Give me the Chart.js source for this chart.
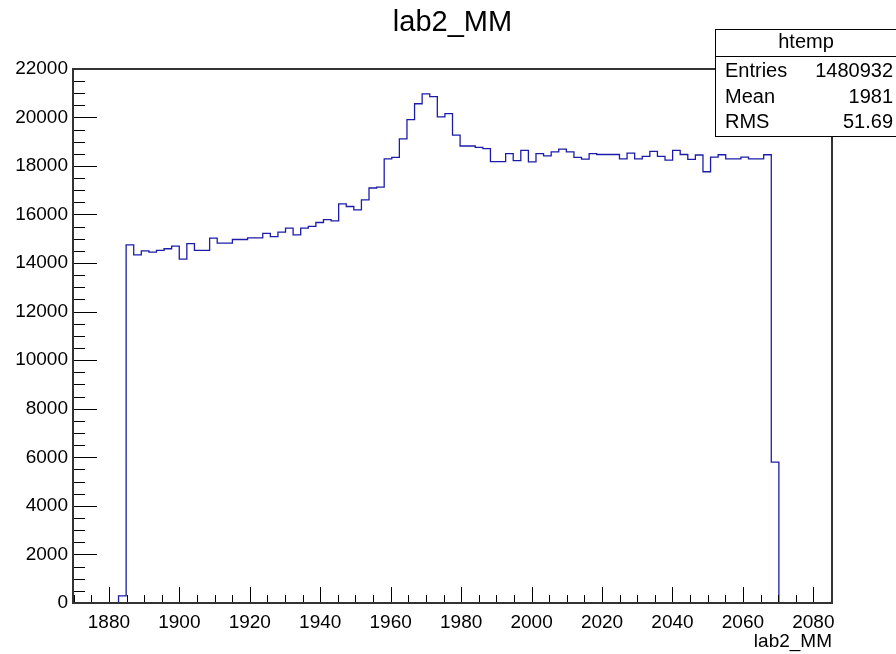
<!DOCTYPE html>
<html>
<head>
<meta charset="utf-8">
<script src="https://cdn.jsdelivr.net/npm/chart.js@4"></script>
<style>
  body { margin: 0; background: #fff; }
  canvas { display: block; }
</style>
</head>
<body>
<canvas id="hist" width="896" height="654"></canvas>
<script>
// histogram binning (htemp, 100 bins)
const xMin = 1869.8;
const xMax = 2085.3;
const nBins = 100;

// bin contents
const counts = [
  0, 0, 0, 0, 0, 0, 290, 14750, 14340, 14500,
  14450, 14520, 14590, 14700, 14160, 14800, 14520, 14520, 15030, 14820,
  14820, 14970, 14970, 15040, 15040, 15220, 15090, 15270, 15440, 15160,
  15440, 15510, 15670, 15790, 15740, 16440, 16330, 16190, 16600, 17090,
  17130, 18290, 18350, 19110, 19910, 20560, 20970, 20850, 20020, 20150,
  19270, 18820, 18820, 18760, 18710, 18180, 18180, 18510, 18220, 18640,
  18170, 18510, 18410, 18580, 18690, 18580, 18350, 18280, 18510, 18470,
  18470, 18470, 18290, 18530, 18290, 18390, 18600, 18390, 18240, 18640,
  18470, 18270, 18450, 17760, 18360, 18460, 18290, 18290, 18360, 18290,
  18290, 18460, 5800, 0, 0, 0, 0, 0, 0, 0
];

const xTickLabels = [1880, 1900, 1920, 1940, 1960, 1980, 2000, 2020, 2040, 2060, 2080];
const yTickLabels = [0, 2000, 4000, 6000, 8000, 10000, 12000, 14000, 16000, 18000, 20000, 22000];
const xMinorStep = 5;
const yMinorStep = 500;

const statsNames = ['Entries', 'Mean', 'RMS'];
const statsValues = ['1480932', '1981', '51.69'];

const FONT = '"Liberation Sans", Arial, Helvetica, sans-serif';

// step outline: each bin's lower edge with its content, plus the last upper edge
const binW = (xMax - xMin) / nBins;
const outline = counts.map((c, i) => ({ x: xMin + i * binW, y: c }));
outline.push({ x: xMax, y: counts[nBins - 1] });

const rootFrame = {
  id: 'rootFrame',
  afterDatasetsDraw(chart) {
    const { ctx, chartArea: a, scales } = chart;
    ctx.save();
    ctx.strokeStyle = '#000';
    ctx.lineWidth = 1;
    ctx.beginPath();
    // x ticks, drawn upward inside the frame
    for (let v = Math.ceil(xMin / xMinorStep) * xMinorStep; v <= xMax; v += xMinorStep) {
      const px = Math.round(scales.x.getPixelForValue(v)) + 0.5;
      const len = v % 20 === 0 ? 16 : 8;
      ctx.moveTo(px, a.bottom);
      ctx.lineTo(px, a.bottom - len);
    }
    // y ticks, drawn rightward inside the frame
    for (let v = 0; v <= 22000; v += yMinorStep) {
      const py = Math.round(scales.y.getPixelForValue(v)) + 0.5;
      const len = v % 2000 === 0 ? 24 : 12;
      ctx.moveTo(a.left, py);
      ctx.lineTo(a.left + len, py);
    }
    ctx.stroke();
    // frame, 2px like the ROOT pad
    ctx.strokeStyle = '#333';
    ctx.lineWidth = 2;
    ctx.strokeRect(Math.round(a.left), Math.round(a.top),
      Math.round(a.right - a.left), Math.round(a.bottom - a.top));
    // axis title
    ctx.fillStyle = '#000';
    ctx.font = '19px ' + FONT;
    ctx.textAlign = 'right';
    ctx.textBaseline = 'alphabetic';
    ctx.fillText('lab2_MM', a.right, a.bottom + 44);
    ctx.restore();
  },
  afterDraw(chart) {
    // stats box
    const { ctx } = chart;
    const left = 715.5, top = 29.5, right = 900, bottom = 136.5, sep = 56.5;
    ctx.save();
    ctx.fillStyle = '#fff';
    ctx.fillRect(left, top, right - left, bottom - top);
    ctx.strokeStyle = '#000';
    ctx.lineWidth = 1;
    ctx.strokeRect(left, top, right - left, bottom - top);
    ctx.beginPath();
    ctx.moveTo(left, sep);
    ctx.lineTo(right, sep);
    ctx.stroke();
    ctx.fillStyle = '#000';
    ctx.font = '20px ' + FONT;
    ctx.textBaseline = 'alphabetic';
    ctx.textAlign = 'center';
    ctx.fillText('htemp', 806, 48);
    const rows = [77, 103, 128];
    statsNames.forEach((n, i) => {
      ctx.textAlign = 'left';
      ctx.fillText(n, 725, rows[i]);
      ctx.textAlign = 'right';
      ctx.fillText(statsValues[i], 893, rows[i]);
    });
    ctx.restore();
  }
};

new Chart(document.getElementById('hist'), {
  type: 'line',
  data: {
    datasets: [{
      data: outline,
      stepped: 'before',
      borderColor: '#1c1ca8',
      borderWidth: 1.3,
      pointRadius: 0,
      fill: false
    }]
  },
  options: {
    responsive: false,
    animation: false,
    layout: { padding: { top: 0, right: 64, bottom: 0, left: 0 } },
    plugins: {
      legend: { display: false },
      tooltip: { enabled: false },
      title: {
        display: true,
        text: 'lab2_MM',
        fullSize: false,
        color: '#000',
        font: { family: FONT, size: 29, weight: 'normal', lineHeight: 1.2 },
        padding: { top: 6, bottom: 28 }
      }
    },
    scales: {
      x: {
        type: 'linear',
        min: xMin,
        max: xMax,
        afterBuildTicks: s => { s.ticks = xTickLabels.map(v => ({ value: v })); },
        afterFit: s => { s.height = 51; },
        grid: { display: false, drawTicks: false },
        border: { display: false },
        ticks: {
          color: '#000',
          padding: 8,
          maxRotation: 0,
          autoSkip: false,
          callback: v => String(v),
          font: { family: FONT, size: 19 }
        }
      },
      y: {
        min: 0,
        max: 22000,
        afterBuildTicks: s => { s.ticks = yTickLabels.map(v => ({ value: v })); },
        afterFit: s => { s.width = 73; },
        grid: { display: false, drawTicks: false },
        border: { display: false },
        ticks: {
          color: '#000',
          padding: 5,
          autoSkip: false,
          callback: v => String(v),
          font: { family: FONT, size: 19 }
        }
      }
    }
  },
  plugins: [rootFrame]
});
</script>
</body>
</html>
